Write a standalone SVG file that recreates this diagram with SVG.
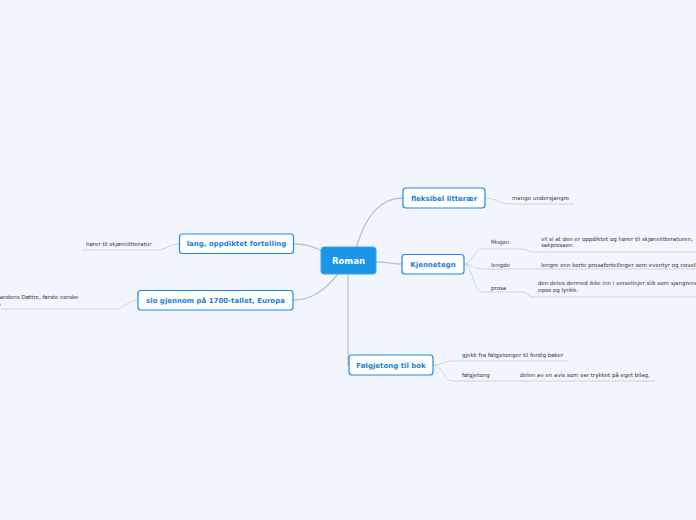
<svg xmlns="http://www.w3.org/2000/svg" width="696" height="520" viewBox="0 0 696 520">
<style>
.bg{fill:#f2f5fd}
.topic rect{fill:#ffffff;stroke:#1a8ce6;stroke-width:1.2}
.topic text{font-family:"DejaVu Sans",Verdana,sans-serif;font-weight:bold;font-size:7px;fill:#1a7fd9;text-anchor:middle}
.central rect{fill:#1b96e6;stroke:#3aa4ec;stroke-width:1}
.central text{font-family:"DejaVu Sans",Verdana,sans-serif;font-weight:bold;font-size:8.5px;fill:#ffffff;text-anchor:middle}
.sub text{font-family:"DejaVu Sans",Verdana,sans-serif;font-size:5.5px;fill:#333333}
.main{fill:none;stroke:#bcc0c8;stroke-width:1.3}
.branch{fill:none;stroke:#cfd3dc;stroke-width:1}
</style>
<rect class="bg" x="0" y="0" width="696" height="520"/>
<g id="connectors">
<path class="main" d="M356,248 C366,215 380,198 403,198"/>
<path class="main" d="M376,262 C388,262 392,264 402,264"/>
<path class="main" d="M321,250 C310,246 305,244 294,244"/>
<path class="main" d="M338,274 C325,290 312,300 293,300"/>
<path class="main" d="M348,274 L348,365 L349,365"/>
<path class="branch" d="M485,198 C495,198 500,204 510,204 L574,204"/>
<path class="branch" d="M179,244 C170,244 165,250 158,250 L82,250"/>
<path class="branch" d="M138,300 C128,300 124,309 116,309 L0,309"/>
<path class="branch" d="M464,264 C472,264 474,249 482,249 L523,249 C527,249 528,252 533,252 L696,252"/>
<path class="branch" d="M464,264 C472,264 474,269 482,269 L696,269"/>
<path class="branch" d="M464,264 C472,264 474,292 482,292 L523,292 C527,292 528,297 533,297 L696,297"/>
<path class="branch" d="M433,365 C442,365 444,361 452,361 L568,361"/>
<path class="branch" d="M433,365 C442,365 444,381 452,381 L655,381"/>
</g>
<g id="roman" class="central">
<rect x="321" y="247" width="55" height="27" rx="3"/>
<text x="348.5" y="263.5">Roman</text>
</g>
<g id="fleksibel" class="topic">
<rect x="403" y="188" width="82" height="20" rx="3"/>
<text x="444" y="200.5">fleksibel litterær</text>
</g>
<g id="kjennetegn" class="topic">
<rect x="402" y="254.5" width="62" height="19.5" rx="3"/>
<text x="433" y="266.8">Kjennetegn</text>
</g>
<g id="lang" class="topic">
<rect x="179.5" y="234" width="114" height="19.5" rx="3"/>
<text x="236.5" y="246.3">lang, oppdiktet fortelling</text>
</g>
<g id="slo" class="topic">
<rect x="138" y="290.5" width="155" height="19.5" rx="3"/>
<text x="215.5" y="302.8">slo gjennom på 1700-tallet, Europa</text>
</g>
<g id="folgjetong" class="topic">
<rect x="349" y="355" width="84" height="20" rx="3"/>
<text x="391" y="367.5">Følgjetong til bok</text>
</g>
<g id="mange" class="sub"><text x="512" y="200">mange undersjangre</text></g>
<g id="horer" class="sub"><text x="86" y="246">hører til skjønnlitteratur</text></g>
<g id="amtmandens" class="sub"><text x="-17" y="299">Amtmandens Døttre, første norske</text><text x="-17" y="305.5">roman</text></g>
<g id="fiksjon" class="sub"><text x="491" y="244">fiksjon</text></g>
<g id="fiksjon-detail" class="sub"><text x="541" y="241">vil si at den er oppdiktet og hører til skjønnlitteraturen,</text><text x="541" y="247">sakprosaen.</text></g>
<g id="lengde" class="sub"><text x="491" y="267">lengde</text></g>
<g id="lengde-detail" class="sub"><text x="541" y="267">lengre enn korte prosafortellinger som eventyr og noveller.</text></g>
<g id="prosa" class="sub"><text x="491" y="290">prosa</text></g>
<g id="prosa-detail" class="sub"><text x="538" y="285">den deles dermed ikke inn i verselinjer slik som sjangrene</text><text x="538" y="292">epos og lyrikk.</text></g>
<g id="gjekk" class="sub"><text x="462" y="357">gjekk fra følgjetonger til ferdig bøker</text></g>
<g id="folgjetong-sub" class="sub"><text x="462" y="377">følgjetong</text></g>
<g id="delen" class="sub"><text x="520" y="377">delen av en avis som var trykket på eget bilag,</text></g>
</svg>
